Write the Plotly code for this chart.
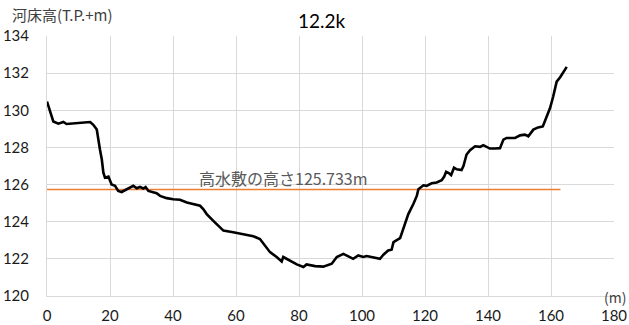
import plotly.graph_objects as go

# Cross-section survey at 12.2k: distance from left bank (m) and bed elevation (T.P.+m)
distance = [0.0, 2.0, 3.6, 5.2, 6.2, 8.0, 10.5, 12.0, 13.7, 14.7, 15.8, 16.8, 17.4, 17.9, 18.4,
            19.5, 20.0, 20.5, 21.6, 22.6, 23.7, 24.8, 25.8, 27.4, 28.5, 29.5, 30.6, 31.3, 32.2,
            33.7, 34.8, 35.9, 38.0, 40.1, 42.2, 44.4, 46.4, 48.6, 49.6, 50.7, 52.8, 54.4, 56.0,
            59.1, 62.3, 65.5, 67.6, 69.2, 70.8, 72.9, 74.5, 75.0, 77.1, 79.3, 81.4, 82.4, 85.1,
            87.7, 90.4, 92.0, 94.1, 95.7, 97.2, 98.8, 100.4, 101.5, 103.6, 105.7, 106.8, 108.3,
            109.4, 110.0, 112.1, 113.1, 114.7, 116.3, 117.4, 117.9, 119.5, 120.5, 122.1, 123.7,
            125.3, 126.1, 126.7, 127.7, 128.3, 129.2, 130.1, 131.6, 132.2, 133.2, 134.3, 135.9,
            137.5, 138.5, 139.8, 140.6, 142.2, 143.8, 144.9, 145.9, 148.6, 150.2, 151.7, 152.8,
            154.4, 155.9, 157.4, 158.6, 159.7, 160.7, 161.8, 162.9, 163.9, 165.0]
bed_elevation = [130.47, 129.40, 129.28, 129.37, 129.26, 129.28, 129.32, 129.33, 129.37, 129.22,
                 128.96, 127.90, 127.35, 126.64, 126.37, 126.43, 126.19, 126.00, 125.93, 125.66,
                 125.60, 125.70, 125.80, 125.93, 125.80, 125.87, 125.79, 125.87, 125.66, 125.57,
                 125.53, 125.39, 125.27, 125.21, 125.18, 125.04, 124.95, 124.86, 124.68, 124.41,
                 124.05, 123.79, 123.52, 123.43, 123.34, 123.22, 123.07, 122.72, 122.36, 122.10,
                 121.86, 122.10, 121.91, 121.70, 121.56, 121.70, 121.61, 121.58, 121.74, 122.10,
                 122.27, 122.15, 122.00, 122.18, 122.10, 122.15, 122.08, 122.00, 122.22, 122.45,
                 122.49, 122.90, 123.11, 123.61, 124.41, 124.95, 125.39, 125.75, 125.96, 125.93,
                 126.07, 126.11, 126.23, 126.43, 126.69, 126.60, 126.51, 126.91, 126.82, 126.78,
                 127.00, 127.62, 127.85, 128.06, 128.03, 128.12, 128.03, 127.94, 127.94, 127.96,
                 128.42, 128.51, 128.51, 128.65, 128.69, 128.60, 128.96, 129.08, 129.13, 129.67,
                 130.12, 130.74, 131.54, 131.78, 132.08, 132.34]

# High-water channel (floodplain) level
floodplain_level = 125.733
floodplain_extent = [0, 163]

x_ticks = [0, 20, 40, 60, 80, 100, 120, 140, 160, 180]
y_ticks = [120, 122, 124, 126, 128, 130, 132, 134]

W, H = 629, 325
M_L, M_R, M_T, M_B = 47, 15, 36, 29

tick_font = dict(family="Lato, Noto Sans CJK JP, sans-serif", size=15, color="#1a1a1a")
jp_font = "Noto Sans CJK JP, sans-serif"

fig = go.Figure()
fig.add_trace(go.Scatter(
    x=floodplain_extent, y=[floodplain_level, floodplain_level],
    mode="lines", line=dict(color="#ED7D31", width=1.5), hoverinfo="skip"))
fig.add_trace(go.Scatter(
    x=distance, y=bed_elevation, mode="lines",
    line=dict(color="#000000", width=2.6)))


def px_ann(text, px, py, size, family, color, anchor):
    """Annotation positioned by pixel coordinates on the page."""
    plot_w = W - M_L - M_R
    plot_h = H - M_T - M_B
    return dict(text=text, xref="paper", yref="paper",
                x=(px - M_L) / plot_w, y=1 - (py - M_T) / plot_h,
                xanchor=anchor, yanchor="middle", showarrow=False,
                font=dict(family=family, size=size, color=color))


fig.update_layout(
    template="none",
    width=W, height=H,
    margin=dict(l=M_L, r=M_R, t=M_T, b=M_B, pad=0),
    paper_bgcolor="white", plot_bgcolor="white",
    showlegend=False,
    xaxis=dict(range=[0, 180], tickvals=x_ticks, showgrid=True, gridcolor="#d9d9d9",
               gridwidth=1, showline=True, linecolor="#d9d9d9", linewidth=1, zeroline=False,
               ticks="", tickfont=tick_font, ticklabelstandoff=6, automargin=False),
    yaxis=dict(range=[120, 134], tickvals=y_ticks, showgrid=True, gridcolor="#d9d9d9",
               gridwidth=1, showline=True, linecolor="#d9d9d9", linewidth=1, zeroline=False,
               ticks="", tickfont=tick_font, ticklabelstandoff=14, automargin=False),
    annotations=[
        px_ann("12.2k", 322, 20, 19, "Lato, sans-serif", "#000000", "center"),
        px_ann("河床高(T.P.+m)", 10, 14, 15, jp_font, "#404040", "left"),
        px_ann("(m)", 628, 297, 14, jp_font, "#404040", "right"),
        px_ann(f"高水敷の高さ{floodplain_level}m", 197, 178, 16, jp_font, "#595959", "left"),
    ],
)

fig.write_html("out.html")
